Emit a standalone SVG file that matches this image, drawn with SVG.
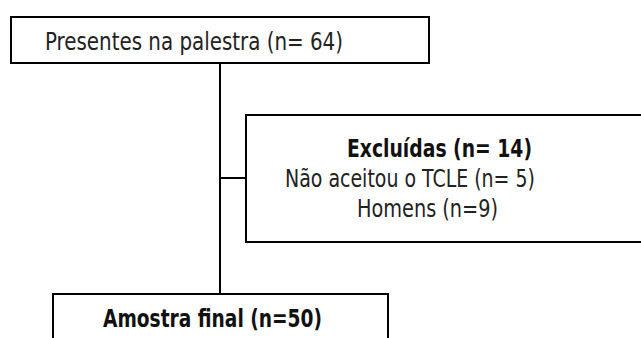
<svg xmlns="http://www.w3.org/2000/svg" width="641" height="338" viewBox="0 0 641 338">
<style>
.box{fill:#fff;stroke:#000;stroke-width:2}
.ln{stroke:#000;stroke-width:2;fill:none}
.t{font-family:"Liberation Sans Narrow","DejaVu Sans Condensed","Liberation Sans",sans-serif;font-size:24px;fill:#222}
.b{font-weight:bold;fill:#111}
</style>
<rect width="641" height="338" fill="#fff"/>
<g id="connectors">
<line class="ln" x1="220" y1="63" x2="220" y2="294"/>
<line class="ln" x1="220" y1="178" x2="246" y2="178"/>
</g>
<g id="presentes">
<rect class="box" x="11" y="17" width="418" height="46"/>
<text class="t" x="45" y="50" textLength="298" lengthAdjust="spacingAndGlyphs">Presentes na palestra (n= 64)</text>
</g>
<g id="excluidas">
<rect class="box" x="246" y="115" width="400" height="127"/>
<text class="t b" x="347" y="157" textLength="185" lengthAdjust="spacingAndGlyphs">Excluídas (n= 14)</text>
<text class="t" x="285" y="187" textLength="250" lengthAdjust="spacingAndGlyphs">Não aceitou o TCLE (n= 5)</text>
<text class="t" x="357" y="217" textLength="141" lengthAdjust="spacingAndGlyphs">Homens (n=9)</text>
</g>
<g id="amostra">
<rect class="box" x="53" y="294" width="335" height="60"/>
<text class="t b" x="103" y="327" textLength="219" lengthAdjust="spacingAndGlyphs">Amostra final (n=50)</text>
</g>
</svg>
